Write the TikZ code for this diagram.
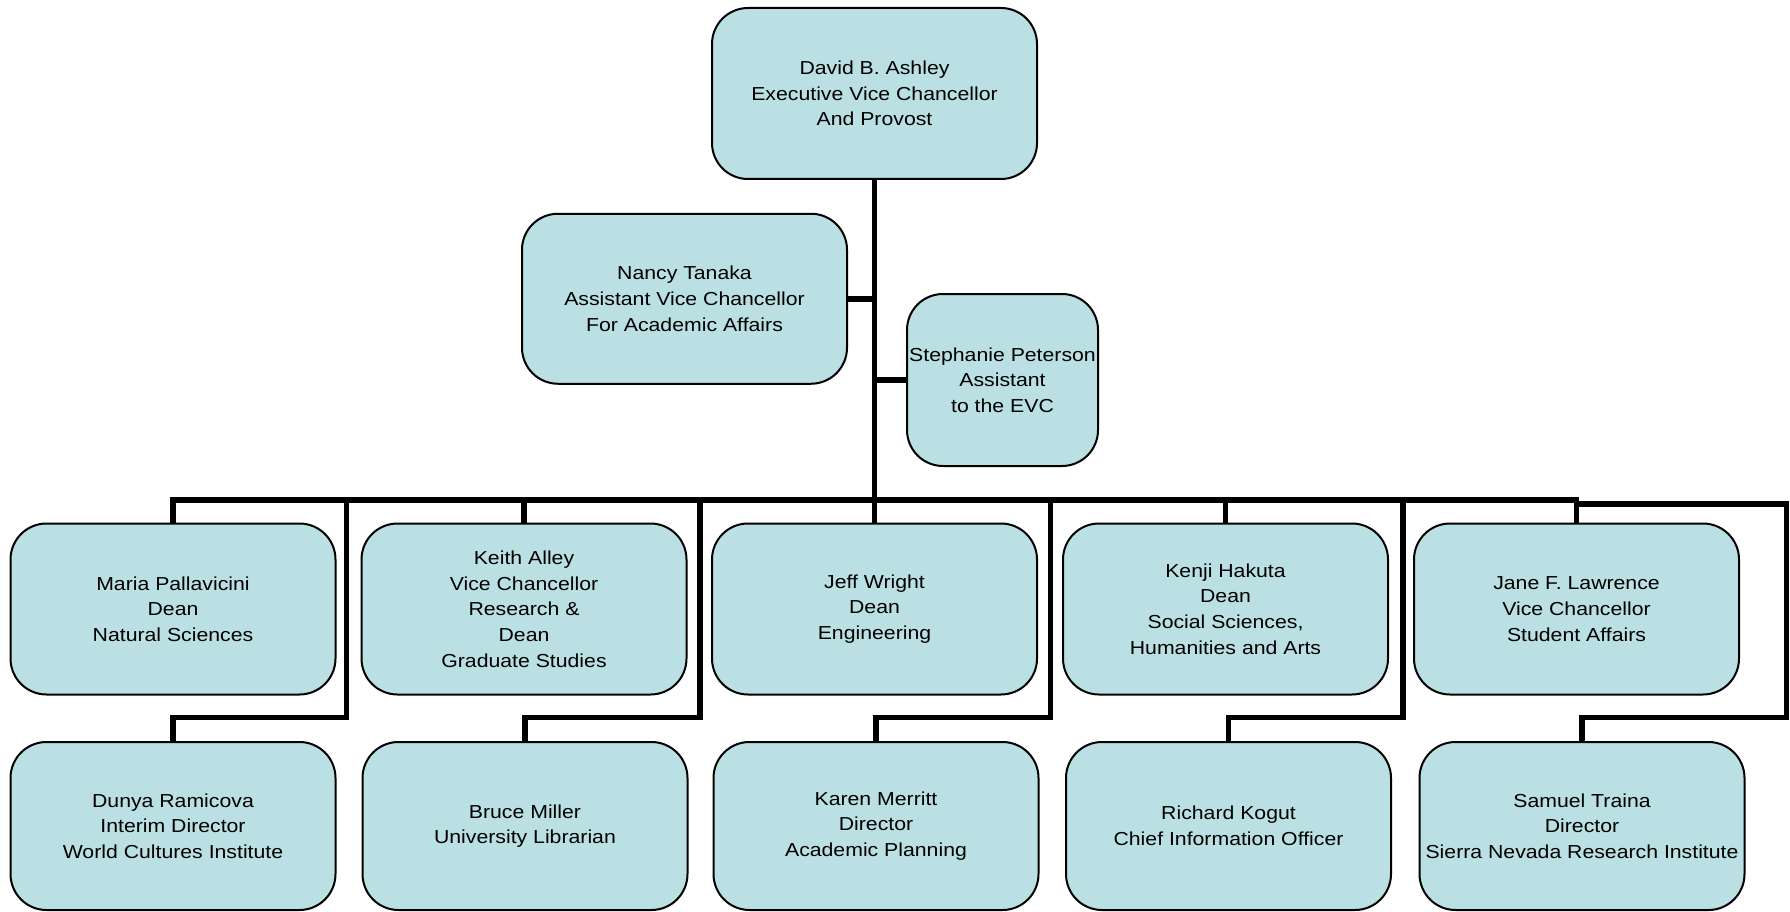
\documentclass[tikz,border=0pt]{standalone}
\usepackage{fontspec}
\setmainfont{Liberation Sans}[FakeStretch=1.13]
\definecolor{boxfill}{RGB}{187,224,227}
\begin{document}
\begin{tikzpicture}[x=1pt,y=-1pt,
  box/.style={draw=black, line width=2pt, fill=boxfill, rounded corners=36pt,
    minimum width=325pt, minimum height=171pt, inner sep=0pt, align=center,
    font=\fontsize{18.8}{25.7}\selectfont, anchor=center},
  lowbox/.style={box, minimum height=168pt},
  conn/.style={line width=5.5pt, line join=miter}]
\useasboundingbox (0,0) rectangle (1790,912);
% boxes
\node[box] (top) at (874.5,93.5) {David B. Ashley\\Executive Vice Chancellor\\And Provost};
\node[box, minimum height=170pt] (nancy) at (684.5,298.75) {Nancy Tanaka\\Assistant Vice Chancellor\\For Academic Affairs};
\node[box, minimum width=191pt, minimum height=172pt] (steph) at (1002.5,380) {Stephanie Peterson\\Assistant\\to the EVC};
\node[box] (maria) at (173,609) {Maria Pallavicini\\Dean\\Natural Sciences};
\node[box] (keith) at (524,609) {Keith Alley\\Vice Chancellor\\Research \&\\Dean\\Graduate Studies};
\node[box] (jeff) at (874.5,609) {Jeff Wright\\Dean\\Engineering};
\node[box] (kenji) at (1225.5,609) {Kenji Hakuta\\Dean\\Social Sciences,\\Humanities and Arts};
\node[box] (jane) at (1576.5,609) {Jane F. Lawrence\\Vice Chancellor\\Student Affairs};
\node[lowbox] (dunya) at (173,826) {Dunya Ramicova\\Interim Director\\World Cultures Institute};
\node[lowbox] (bruce) at (525,826) {Bruce Miller\\University Librarian};
\node[lowbox] (karen) at (876,826) {Karen Merritt\\Director\\Academic Planning};
\node[lowbox] (richard) at (1228.5,826) {Richard Kogut\\Chief Information Officer};
\node[lowbox] (samuel) at (1582,826) {Samuel Traina\\Director\\Sierra Nevada Research Institute};
% junction coordinates
\coordinate (busL) at (173,500);
\coordinate (busR) at (1576.5,500);
\coordinate (bK) at (524,500);
\coordinate (bKe) at (1225.5,500);
\coordinate (d1) at (346.6,500);
\coordinate (d2) at (700,500);
\coordinate (d3) at (1050.4,500);
\coordinate (d4) at (1403,500);
\coordinate (s1) at (1576.5,504);
\coordinate (s2) at (1786.7,504);
\coordinate (lowy) at (0,717.5);
% connectors
\draw[conn] (top.south) -- (jeff.north);
\draw[conn] (nancy.east) -- (nancy.east -| top.south);
\draw[conn] (steph.west) -- (steph.west -| top.south);
\draw[conn] (maria.north) -- (busL) -- (busR) -- (jane.north);
\draw[conn] (bK) -- (keith.north);
\draw[conn] (bKe) -- (kenji.north);
\draw[conn] (d1) -- (d1 |- lowy) -- (dunya.north |- lowy) -- (dunya.north);
\draw[conn] (d2) -- (d2 |- lowy) -- (bruce.north |- lowy) -- (bruce.north);
\draw[conn] (d3) -- (d3 |- lowy) -- (karen.north |- lowy) -- (karen.north);
\draw[conn] (d4) -- (d4 |- lowy) -- (richard.north |- lowy) -- (richard.north);
\draw[conn] (s1) -- (s2) -- (s2 |- lowy) -- (samuel.north |- lowy) -- (samuel.north);
\end{tikzpicture}
\end{document}
